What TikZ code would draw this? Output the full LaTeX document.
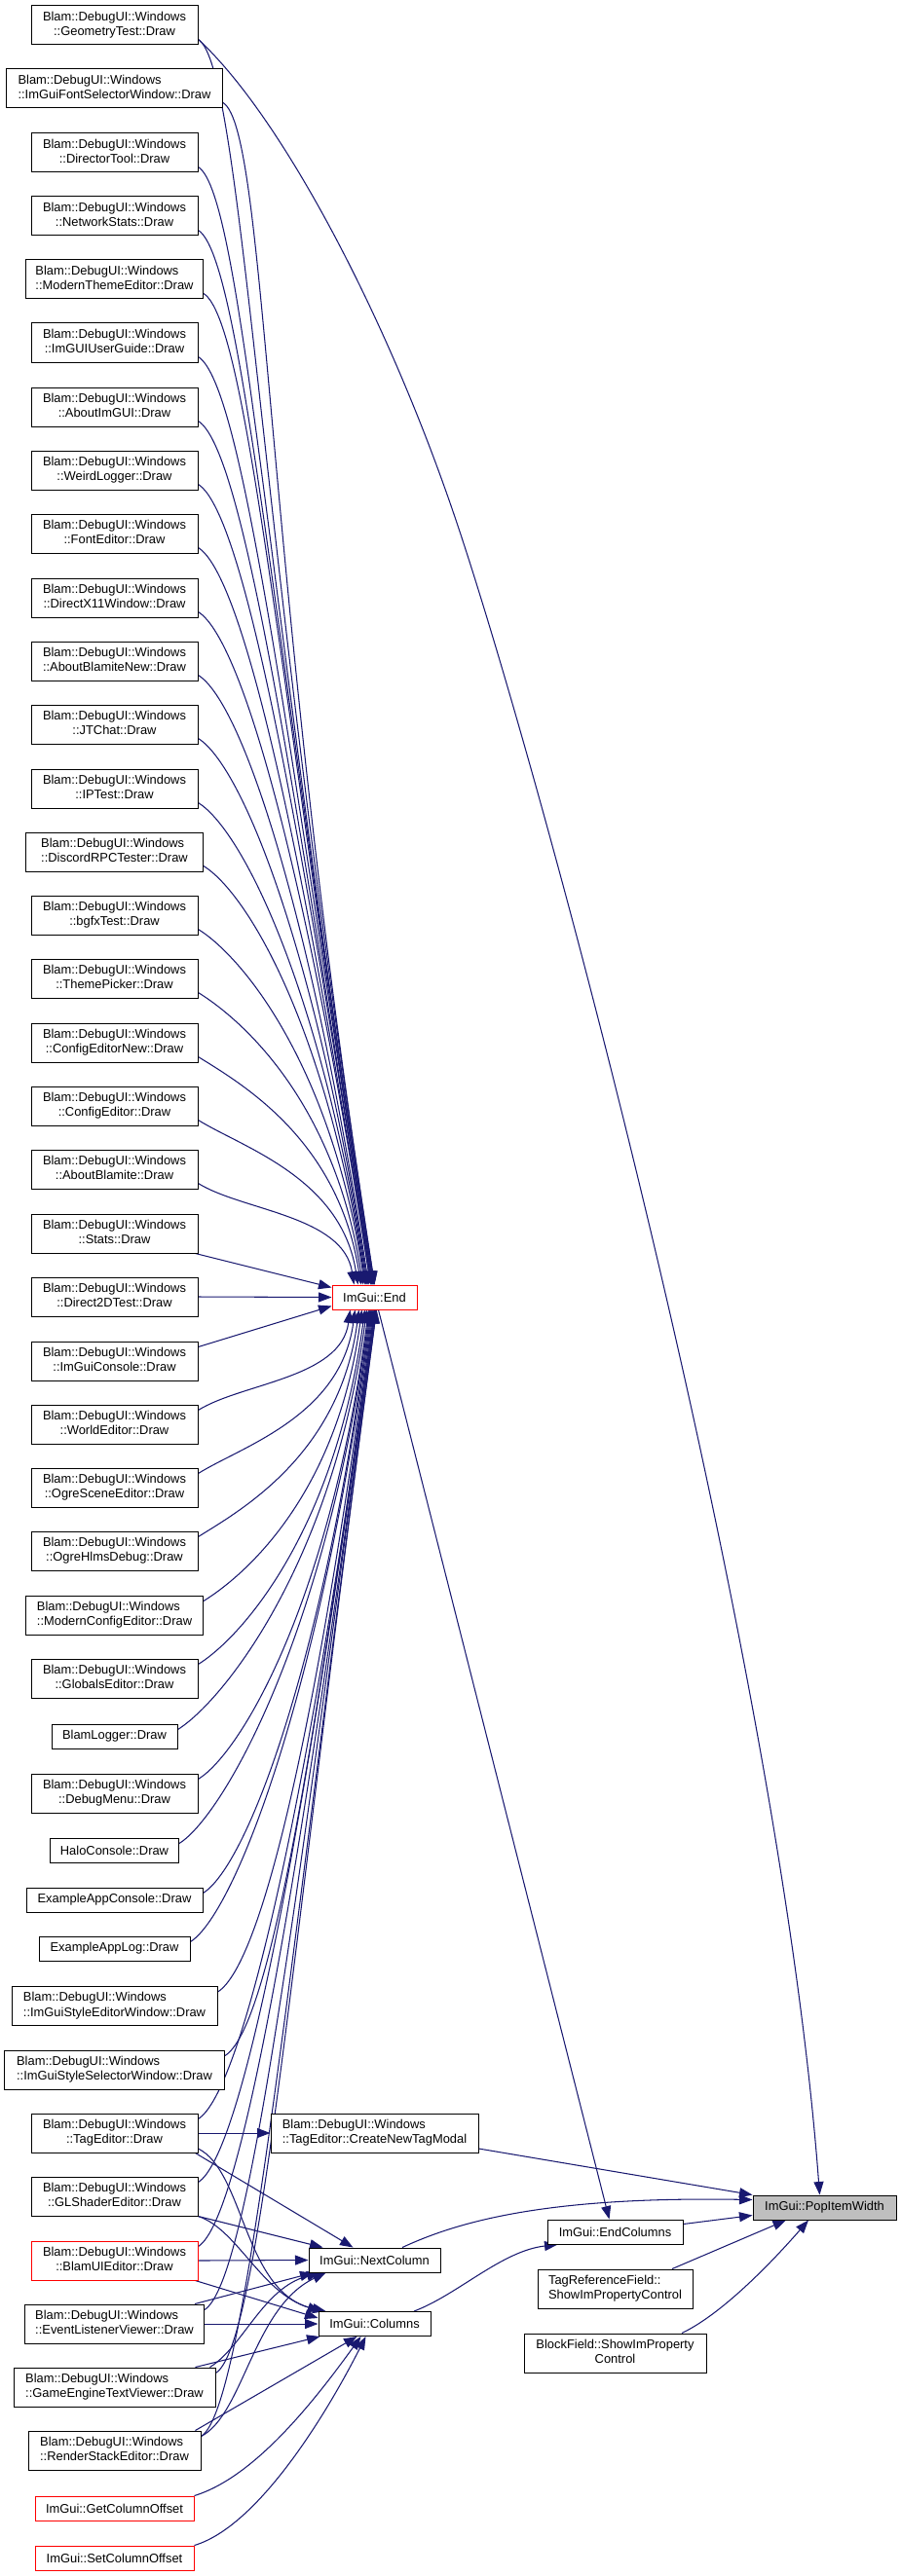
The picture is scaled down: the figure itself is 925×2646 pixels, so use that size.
\documentclass[tikz,border=0pt]{standalone}
\usepackage{fontspec}
\setmainfont{Liberation Sans}
\usetikzlibrary{arrows.meta}
\definecolor{midblue}{RGB}{25,25,112}
\definecolor{nodered}{RGB}{255,0,0}
\definecolor{rootgray}{RGB}{191,191,191}
\newcommand\twol[2]{\begin{tabular}{@{}c@{}}\multicolumn{1}{@{}l@{}}{#1}\\#2\end{tabular}}
\newcommand\bw{Blam::DebugUI::Windows}
\pgfdeclarelayer{bg}
\pgfsetlayers{bg,main}
\begin{document}
\begin{tikzpicture}[x=1pt,y=-1pt,
  box/.style={draw=black, line width=1pt, fill=white, inner sep=0pt, minimum height=40pt, minimum width=171pt, font={\fontsize{12.9pt}{15.6pt}\selectfont}},
  one/.style={minimum height=25pt},
  redbox/.style={draw=nodered},
  edge/.style={draw=midblue, line width=1.05pt, -{Triangle[length=13.5pt,width=10pt]}}]
\useasboundingbox (0,0) rectangle (925,2646);
% left column
\node[box] (geo) at (117.5,26) {\twol{\bw}{::GeometryTest::Draw}};
\node[box, minimum width=222pt] (fontsel) at (117.5,91) {\twol{\bw}{::ImGuiFontSelectorWindow::Draw}};
\node[box] (director) at (117.5,157) {\twol{\bw}{::DirectorTool::Draw}};
\node[box] (netstats) at (117.5,222) {\twol{\bw}{::NetworkStats::Draw}};
\node[box, minimum width=182pt] (modtheme) at (117.5,287) {\twol{\bw}{::ModernThemeEditor::Draw}};
\node[box] (userguide) at (117.5,352) {\twol{\bw}{::ImGUIUserGuide::Draw}};
\node[box] (aboutimgui) at (117.5,418) {\twol{\bw}{::AboutImGUI::Draw}};
\node[box] (weird) at (117.5,483) {\twol{\bw}{::WeirdLogger::Draw}};
\node[box] (fonted) at (117.5,548) {\twol{\bw}{::FontEditor::Draw}};
\node[box] (dx11) at (117.5,614) {\twol{\bw}{::DirectX11Window::Draw}};
\node[box] (aboutnew) at (117.5,679) {\twol{\bw}{::AboutBlamiteNew::Draw}};
\node[box] (jtchat) at (117.5,744) {\twol{\bw}{::JTChat::Draw}};
\node[box] (iptest) at (117.5,810) {\twol{\bw}{::IPTest::Draw}};
\node[box, minimum width=182pt] (discord) at (117.5,875) {\twol{\bw}{::DiscordRPCTester::Draw}};
\node[box] (bgfx) at (117.5,940) {\twol{\bw}{::bgfxTest::Draw}};
\node[box] (theme) at (117.5,1005) {\twol{\bw}{::ThemePicker::Draw}};
\node[box] (cfgnew) at (117.5,1071) {\twol{\bw}{::ConfigEditorNew::Draw}};
\node[box] (cfg) at (117.5,1136) {\twol{\bw}{::ConfigEditor::Draw}};
\node[box] (aboutbl) at (117.5,1201) {\twol{\bw}{::AboutBlamite::Draw}};
\node[box] (stats) at (117.5,1267) {\twol{\bw}{::Stats::Draw}};
\node[box] (d2d) at (117.5,1332) {\twol{\bw}{::Direct2DTest::Draw}};
\node[box] (console) at (117.5,1398) {\twol{\bw}{::ImGuiConsole::Draw}};
\node[box] (world) at (117.5,1463) {\twol{\bw}{::WorldEditor::Draw}};
\node[box] (ogrescene) at (117.5,1528) {\twol{\bw}{::OgreSceneEditor::Draw}};
\node[box] (ogrehlms) at (117.5,1593) {\twol{\bw}{::OgreHlmsDebug::Draw}};
\node[box, minimum width=182pt] (modcfg) at (117.5,1659) {\twol{\bw}{::ModernConfigEditor::Draw}};
\node[box] (globals) at (117.5,1724) {\twol{\bw}{::GlobalsEditor::Draw}};
\node[box, one, minimum width=129pt] (blamlog) at (117.5,1783.5) {BlamLogger::Draw};
\node[box] (debugmenu) at (117.5,1842) {\twol{\bw}{::DebugMenu::Draw}};
\node[box, one, minimum width=132pt] (halo) at (117.5,1900.5) {HaloConsole::Draw};
\node[box, one, minimum width=181pt] (exconsole) at (117.5,1951.5) {ExampleAppConsole::Draw};
\node[box, one, minimum width=155pt] (exlog) at (117.5,2001.5) {ExampleAppLog::Draw};
\node[box, minimum width=211pt] (styleed) at (117.5,2060.5) {\twol{\bw}{::ImGuiStyleEditorWindow::Draw}};
\node[box, minimum width=226pt] (stylesel) at (117.5,2126) {\twol{\bw}{::ImGuiStyleSelectorWindow::Draw}};
\node[box] (tagedit) at (117.5,2191) {\twol{\bw}{::TagEditor::Draw}};
\node[box] (glsh) at (117.5,2256) {\twol{\bw}{::GLShaderEditor::Draw}};
\node[box, redbox] (blamui) at (117.5,2322) {\twol{\bw}{::BlamUIEditor::Draw}};
\node[box, minimum width=184pt] (evl) at (117.5,2387) {\twol{\bw}{::EventListenerViewer::Draw}};
\node[box, minimum width=207pt] (getv) at (117.5,2452) {\twol{\bw}{::GameEngineTextViewer::Draw}};
\node[box, minimum width=177pt] (rse) at (117.5,2517) {\twol{\bw}{::RenderStackEditor::Draw}};
\node[box, one, redbox, minimum width=163pt] (getoff) at (117.5,2576.5) {ImGui::GetColumnOffset};
\node[box, one, redbox, minimum width=163pt] (setoff) at (117.5,2627.5) {ImGui::SetColumnOffset};
% middle column
\node[box, one, redbox, minimum width=87pt] (End) at (384.5,1332.5) {ImGui::End};
\node[box, minimum width=213pt] (ctnm) at (384.5,2191) {\twol{\bw}{::TagEditor::CreateNewTagModal}};
\node[box, one, minimum width=135pt] (nextcol) at (384.5,2321.5) {ImGui::NextColumn};
\node[box, one, minimum width=115pt] (columns) at (384.5,2387) {ImGui::Columns};
% right column
\node[box, one, minimum width=139pt] (endcols) at (631.5,2292.5) {ImGui::EndColumns};
\node[box, minimum width=159pt] (tagref) at (631.5,2351) {\twol{TagReferenceField::}{ShowImPropertyControl}};
\node[box, minimum width=187pt] (blockf) at (631.5,2417) {\twol{BlockField::ShowImProperty}{Control}};
\node[box, one, fill=rootgray, minimum width=147pt] (popw) at (846.5,2267.5) {ImGui::PopItemWidth};

\begin{pgfonlayer}{bg}
% callers of ImGui::End above it
\foreach \n/\yy/\tx in {geo/26/0, fontsel/91/0, director/157/-1, netstats/222/-1, modtheme/287/-2, userguide/352/-2, aboutimgui/418/-3, weird/483/-3, fonted/548/-4, dx11/614/-4, aboutnew/679/-6, jtchat/744/-7, iptest/810/-8, discord/875/-9, bgfx/940/-10, theme/1005/-12, cfgnew/1071/-14, cfg/1136/-17, aboutbl/1201/-21}{
  \pgfmathsetmacro\L{0.6*(1320-\yy)}
  \pgfmathsetmacro\cx{384.5+\tx-0.155*\L}
  \pgfmathsetmacro\cy{1320-\L}
  \draw[edge] ([yshift=6pt]\n.south east) .. controls +(45,28) and (\cx,\cy) .. ([xshift=\tx pt]End.north);
}
\draw[edge] ([xshift=-3pt]stats.south east) -- ([yshift=10pt]End.west);
\draw[edge] (d2d.east) -- (End.west);
\draw[edge] ([yshift=-6pt]console.north east) -- ([yshift=-9pt]End.west);
% callers of ImGui::End below it
\foreach \n/\yy/\tx in {world/1463/-25, ogrescene/1528/-20, ogrehlms/1593/-16, modcfg/1659/-13, globals/1724/-10, blamlog/1783.5/-8, debugmenu/1842/-6, halo/1900.5/-5, exconsole/1951.5/-4, exlog/2001.5/-3, styleed/2060.5/-2, stylesel/2126/-1, tagedit/2191/0, glsh/2256/0, blamui/2322/1, evl/2387/1, getv/2452/2, rse/2517/2}{
  \pgfmathsetmacro\L{0.6*(\yy-1345)}
  \pgfmathsetmacro\cx{384.5+\tx-0.133*\L}
  \pgfmathsetmacro\cy{1345+\L}
  \draw[edge] ([yshift=-6pt]\n.north east) .. controls +(45,-28) and (\cx,\cy) .. ([xshift=\tx pt]End.south);
}
% long edge to PopItemWidth
\draw[edge] ([yshift=6pt]geo.south east) .. controls (290,120) and (400,330) .. (470,540) .. controls (560,810) and (800,1700) .. ([xshift=-5pt]popw.north);
\draw[edge] ([xshift=4pt]End.south) -- ([xshift=-6pt]endcols.north);
\draw[edge] ([yshift=-16pt]ctnm.east) -- (popw.north west);
\draw[edge] ([xshift=28.5pt]nextcol.north) .. controls (470,2282) and (560,2256) .. ([yshift=8pt]popw.west);
\draw[edge] ([yshift=8pt]endcols.east) -- ([yshift=-8pt]popw.west);
\draw[edge] ([xshift=58.5pt]tagref.north) -- ([xshift=-39.5pt]popw.south);
\draw[edge] ([xshift=68.5pt]blockf.north) .. controls (745,2375) and (800,2315) .. ([xshift=-16.5pt]popw.south);
\draw[edge] ([xshift=40.5pt]columns.north) .. controls (470,2357) and (515,2312) .. ([xshift=11pt]endcols.south west);
% TagEditor
\draw[edge] (tagedit.east) -- (ctnm.west);
\draw[edge] ([xshift=-3pt]tagedit.south east) -- ([xshift=-22pt]nextcol.north);
\draw[edge] ([yshift=-16pt]tagedit.east) .. controls (250,2230) and (250,2350) .. ([xshift=3pt]columns.north west);
% GLShaderEditor
\draw[edge] (glsh.south east) -- ([xshift=15pt]nextcol.north west);
\draw[edge] (glsh.south east) .. controls (245,2290) and (270,2360) .. ([xshift=8pt]columns.north west);
% BlamUIEditor
\draw[edge] (blamui.east) -- (nextcol.west);
\draw[edge] ([xshift=-3pt]blamui.south east) -- ([yshift=6pt]columns.west);
% EventListenerViewer
\draw[edge] ([xshift=-10pt]evl.north east) -- ([xshift=5pt]nextcol.south west);
\draw[edge] (evl.east) -- (columns.west);
% GameEngineTextViewer
\draw[edge] ([xshift=-6pt]getv.north east) .. controls (250,2410) and (270,2350) .. ([xshift=12pt]nextcol.south west);
\draw[edge] ([xshift=-21pt]getv.north east) -- ([xshift=2pt]columns.south west);
% RenderStackEditor
\draw[edge] ([yshift=-6pt]rse.north east) .. controls (250,2480) and (260,2370) .. ([xshift=18pt]nextcol.south west);
\draw[edge] ([xshift=-6pt]rse.north east) -- ([xshift=-18pt]columns.south);
% column offsets
\draw[edge] (getoff.north east) .. controls (260,2545) and (320,2470) .. ([xshift=-14pt]columns.south);
\draw[edge] (setoff.north east) .. controls (265,2595) and (335,2480) .. ([xshift=-9pt]columns.south);
\end{pgfonlayer}
\end{tikzpicture}
\end{document}
